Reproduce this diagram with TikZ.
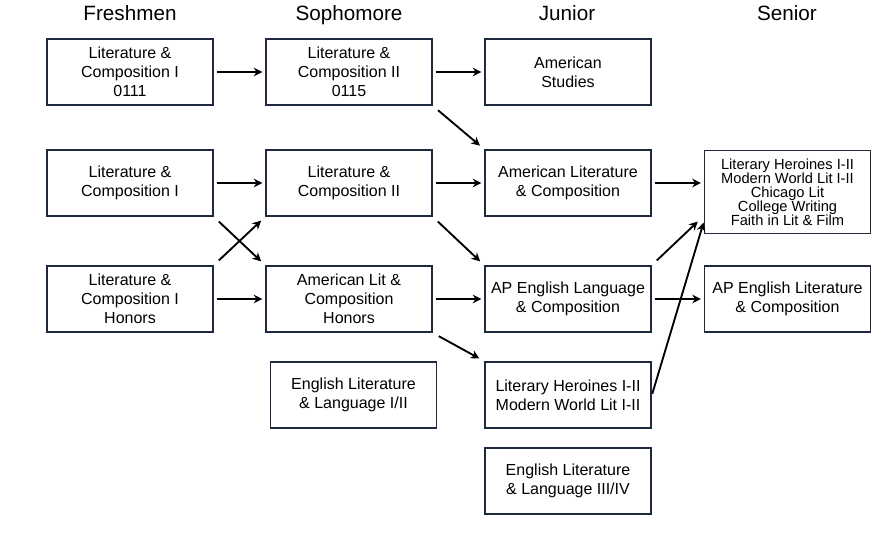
\documentclass[tikz,border=0pt]{standalone}
\usepackage{fontspec}
\setmainfont{Liberation Sans}
\usetikzlibrary{arrows.meta,positioning}
\definecolor{navy}{HTML}{1F2940}

\begin{document}
\begin{tikzpicture}[
    x=0.75pt, y=-0.75pt,
    course/.style={draw=navy, line width=1.4pt, minimum width=124.5pt, minimum height=49.5pt, align=center, inner sep=1pt, font=\fontsize{12}{14.3}\selectfont},
    year/.style={anchor=base, font=\fontsize{15.5}{18}\selectfont},
    arr/.style={-{Stealth[length=6.5pt,width=6.5pt]}, line width=1.4pt, shorten >=2pt, shorten <=2pt},
  ]
  \useasboundingbox (0,0) rectangle (878,553);

  % year headings
  \node[year] (hfresh) at (130, 21) {Freshmen};
  \node[year] (hsoph) at (349, 21) {Sophomore};
  \node[year] (hjun) at (567, 21) {Junior};
  \node[year] (hsen) at (787, 21) {Senior};

  % freshmen
  \node[course] (fresh1) at (130, 72) {Literature \&\\Composition I\\0111};
  \node[course] (fresh2) at (130, 183) {Literature \&\\Composition I};
  \node[course] (fresh3) at (130, 299) {Literature \&\\Composition I\\Honors};

  % sophomore
  \node[course] (soph1) at (349, 72) {Literature \&\\Composition II\\0115};
  \node[course] (soph2) at (349, 183) {Literature \&\\Composition II};
  \node[course] (soph3) at (349, 299) {American Lit \&\\Composition\\Honors};
  \node[course] (soph4) at (353.5, 395) {English Literature\\\& Language I/II};

  % junior
  \node[course] (jun1) at (568, 72) {American\\Studies};
  \node[course] (jun2) at (568, 183) {American Literature\\\& Composition};
  \node[course] (jun3) at (568, 299) {AP English Language\\\& Composition};
  \node[course] (jun4) at (568, 395) {Literary Heroines I-II\\Modern World Lit I-II};
  \node[course] (jun5) at (568, 481) {English Literature\\\& Language III/IV};

  % senior
  \node[course, minimum height=62.25pt, font=\fontsize{11}{10.5}\selectfont] (sen1) at (787.5, 192)
    {Literary Heroines I-II\\Modern World Lit I-II\\Chicago Lit\\College Writing\\Faith in Lit \& Film};
  \node[course] (sen2) at (787.5, 299) {AP English Literature\\\& Composition};

  % paths
  \draw[arr] (fresh1) -- (soph1);
  \draw[arr] (soph1) -- (jun1);
  \draw[arr, shorten <=5pt, shorten >=4pt] (soph1.south east) -- (jun2.north west);
  \draw[arr] (fresh2) -- (soph2);
  \draw[arr] (soph2) -- (jun2);
  \draw[arr, shorten <=5pt, shorten >=4pt] (fresh2.south east) -- (soph3.north west);
  \draw[arr, shorten <=5pt, shorten >=4pt] (fresh3.north east) -- (soph2.south west);
  \draw[arr, shorten <=5pt, shorten >=4pt] (soph2.south east) -- (jun3.north west);
  \draw[arr] (fresh3) -- (soph3);
  \draw[arr] (soph3) -- (jun3);
  \draw[arr, shorten <=5pt, shorten >=4pt] (soph3.south east) -- (jun4.north west);
  \draw[arr] (jun2) -- (sen1.west |- jun2.east);
  \draw[arr, shorten <=5pt, shorten >=6pt] (jun3.north east) -- (sen1.196);
  \draw[arr, shorten <=1pt, shorten >=0pt] (jun4.east) -- (sen1.200);
  \draw[arr] (jun3) -- (sen2);
\end{tikzpicture}
\end{document}
